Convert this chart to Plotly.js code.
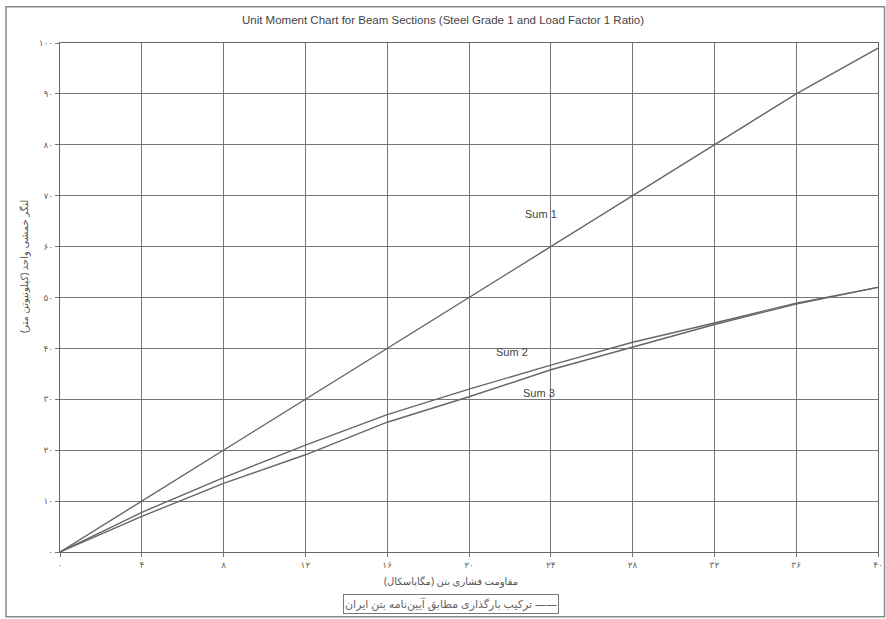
<!DOCTYPE html>
<html>
<head>
<meta charset="utf-8">
<script src="https://cdn.plot.ly/plotly-3.0.1.min.js"></script>
<style>html,body{margin:0;padding:0;background:#fff;}#chart{width:886px;height:619px;}</style>
</head>
<body>
<div id="chart"></div>
<script>
const xValues = [0, 4, 8, 12, 16, 20, 24, 28, 32, 36, 40];
const sum1 = [0, 10, 20, 30, 40, 50, 60, 70, 80, 90, 99];
const sum2 = [0, 7.8, 14.6, 21, 27, 32, 36.7, 41.2, 45, 48.9, 52];
const sum3 = [0, 7.0, 13.5, 19.1, 25.5, 30.5, 35.8, 40.3, 44.7, 48.7, 52];
const xTickVals = [0, 4, 8, 12, 16, 20, 24, 28, 32, 36, 40];
const xTickText = ['۰', '۴', '۸', '۱۲', '۱۶', '۲۰', '۲۴', '۲۸', '۳۲', '۳۶', '۴۰'];
const yTickVals = [0, 10, 20, 30, 40, 50, 60, 70, 80, 90, 100];
const yTickText = ['۰', '۱۰', '۲۰', '۳۰', '۴۰', '۵۰', '۶۰', '۷۰', '۸۰', '۹۰', '۱۰۰'];
const seriesNames = ['Sum 1', 'Sum 2', 'Sum 3'];
const labelPos = [[23.5, 66.5], [22.1, 39.3], [23.4, 31.2]];
const chartTitle = 'Unit Moment Chart for Beam Sections (Steel Grade 1 and Load Factor 1 Ratio)';
const xTitle = 'مقاومت فشاری بتن (مگاپاسکال)';
const yTitle = 'لنگر خمشی واحد (کیلونیوتن متر)';
const legendText = 'ترکیب بارگذاری مطابق آیین‌نامه بتن ایران ——';

const lineStyle = {color: '#666', width: 1.4};
const traces = [sum1, sum2, sum3].map((s, i) => ({
  x: xValues, y: s, type: 'scatter', mode: 'lines', name: seriesNames[i],
  line: lineStyle, showlegend: false, hoverinfo: 'skip'
}));

const annotations = seriesNames.map((n, i) => ({
  x: labelPos[i][0], y: labelPos[i][1], xref: 'x', yref: 'y', text: n,
  showarrow: false, font: {family: 'Liberation Sans, Arial', size: 11, color: '#444'},
  xanchor: 'center', yanchor: 'middle'
}));
annotations.push({
  x: -0.044, y: 0.56, xref: 'paper', yref: 'paper', text: yTitle, textangle: -90,
  xanchor: 'center', yanchor: 'middle',
  showarrow: false, font: {family: 'Noto Sans, DejaVu Sans', size: 10, color: '#555'}
});
annotations.push({
  x: 0.478, y: -0.04, xref: 'paper', yref: 'paper', text: xTitle, yanchor: 'top', xanchor: 'center',
  showarrow: false, font: {family: 'Noto Sans, DejaVu Sans', size: 10, color: '#555'}
});
annotations.push({
  x: 0.478, y: -0.102, xref: 'paper', yref: 'paper', text: legendText, yanchor: 'middle', xanchor: 'center',
  showarrow: false, font: {family: 'Noto Sans, DejaVu Sans', size: 11, color: '#666'},
  bordercolor: '#777', borderwidth: 1, borderpad: 1
});

const layout = {
  width: 886, height: 619,
  margin: {l: 60, r: 8, t: 43, b: 67},
  paper_bgcolor: '#fff', plot_bgcolor: '#fff',
  title: {text: chartTitle, x: 0.5, xanchor: 'center', y: 0.968, yanchor: 'middle',
          font: {family: 'Liberation Sans, Arial', size: 11.5, color: '#444'}},
  xaxis: {range: [0, 40], tickvals: xTickVals, ticktext: xTickText, showgrid: true,
          gridcolor: '#777', gridwidth: 1, zeroline: false, showline: true, linecolor: '#666',
          mirror: true, ticks: 'outside', ticklen: 4, tickcolor: '#777',
          tickfont: {family: 'Noto Sans, DejaVu Sans', size: 9, color: '#666'}},
  yaxis: {range: [0, 100], tickvals: yTickVals, ticktext: yTickText, showgrid: true,
          gridcolor: '#777', gridwidth: 1, zeroline: false, showline: true, linecolor: '#666',
          mirror: true, ticks: 'outside', ticklen: 4, tickcolor: '#777',
          tickfont: {family: 'Noto Sans, DejaVu Sans', size: 9, color: '#666'}},
  annotations: annotations,
  shapes: [{type: 'rect', xref: 'paper', yref: 'paper', x0: -0.066, x1: 1.008, y0: -0.127, y1: 1.071,
            line: {color: '#888', width: 1.5}, layer: 'below'}]
};

Plotly.newPlot('chart', traces, layout, {displayModeBar: false, staticPlot: true});
</script>
</body>
</html>
